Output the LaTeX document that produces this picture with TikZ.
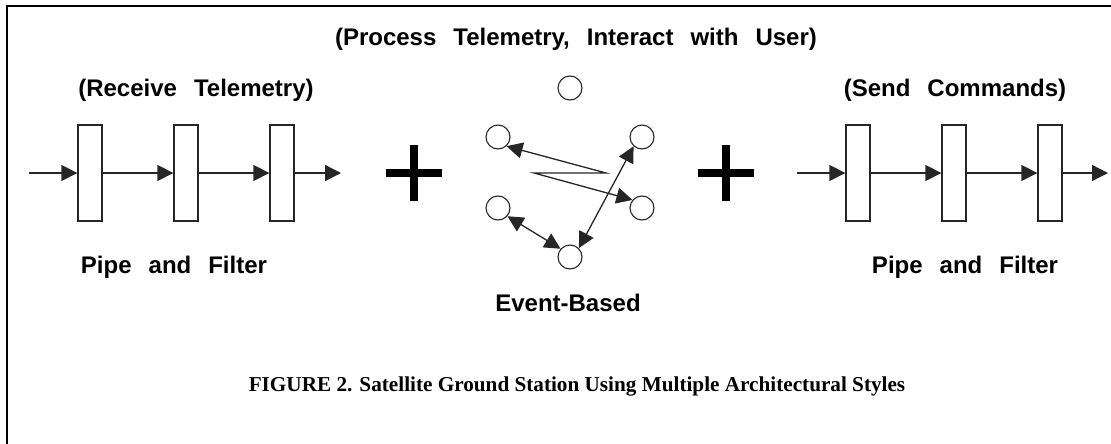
\documentclass[tikz,border=0pt]{standalone}
\usepackage{fontspec}
\setmainfont{Liberation Serif}
\setsansfont{Liberation Sans}
\usetikzlibrary{arrows.meta}

% slightly wider gaps between words in the headings
\newcommand{\widegaps}{\spaceskip=17pt\relax}

\tikzset{
  every picture/.style={x=1pt,y=-1pt},
  tip/.tip={Triangle[length=16pt,width=16pt]},
  wire/.style={line width=1.3pt, draw=black!85},
  flow/.style={wire, -tip},
  both/.style={wire, tip-tip},
  filterbox/.style={draw=black!85, line width=1.3pt, fill=white, minimum width=24pt, minimum height=96pt, inner sep=0pt},
  bubble/.style={circle, draw=black!85, line width=1.1pt, minimum size=24pt, inner sep=0pt},
  plusbar/.style={line width=7.5pt, draw=black},
  heading/.style={font=\sffamily\bfseries\fontsize{24}{28}\selectfont, execute at begin node=\widegaps, anchor=base, inner sep=0pt},
  caption/.style={font=\rmfamily\bfseries\fontsize{21.2}{25}\selectfont, anchor=base, inner sep=0pt}
}

\begin{document}
\begin{tikzpicture}
  \useasboundingbox (0,0) rectangle (1111,444);
  \fill[white] (0,0) rectangle (1111,444);

  % open frame: left and top edges
  \draw[line width=2.5pt] (7,444) -- (7,6) -- (1111,6);

  % headings
  \node[heading] (tProc) at (576,46) {(Process Telemetry, Interact with User)};
  \node[heading] (tRecv) at (196,96) {(Receive Telemetry)};
  \node[heading] (tSend) at (955,96) {(Send Commands)};
  \node[heading] (tPipeL) at (174,273) {Pipe and Filter};
  \node[heading] (tEvent) at (568,311) {Event-Based};
  \node[heading] (tPipeR) at (965,273) {Pipe and Filter};
  \node[caption] (tCap) at (577,391) {FIGURE 2. Satellite Ground Station Using Multiple Architectural Styles};

  % left pipe and filter chain
  \coordinate (inL) at (29,173);
  \node[filterbox] (fL1) at (90,173) {};
  \node[filterbox] (fL2) at (186,173) {};
  \node[filterbox] (fL3) at (282,173) {};
  \coordinate (outL) at (341,173);
  \draw[flow] (inL) -- (fL1);
  \draw[flow] (fL1) -- (fL2);
  \draw[flow] (fL2) -- (fL3);
  \draw[flow] (fL3) -- (outL);

  % right pipe and filter chain
  \coordinate (inR) at (797,173);
  \node[filterbox] (fR1) at (858,173) {};
  \node[filterbox] (fR2) at (954,173) {};
  \node[filterbox] (fR3) at (1050,173) {};
  \coordinate (outR) at (1108,173);
  \draw[flow] (inR) -- (fR1);
  \draw[flow] (fR1) -- (fR2);
  \draw[flow] (fR2) -- (fR3);
  \draw[flow] (fR3) -- (outR);

  % plus signs
  \draw[plusbar] (414,145) -- (414,201) (386,173) -- (442,173);
  \draw[plusbar] (726,145) -- (726,201) (698,173) -- (754,173);

  % event-based components
  \node[bubble] (eTop) at (570,88) {};
  \node[bubble] (eUL) at (498,137) {};
  \node[bubble] (eUR) at (642,137) {};
  \node[bubble] (eLL) at (498,208) {};
  \node[bubble] (eLR) at (642,208) {};
  \node[bubble] (eBot) at (570,257) {};

  % event connectors
  \coordinate (zA) at (606,173);
  \coordinate (zB) at (534,173);
  \draw[both] (eUL.313) -- (zA) -- (zB) -- (eLR.140);
  \draw[both] (eBot.45) -- (eUR.228);
  \draw[both] (eLL.319) -- (eBot.139);
\end{tikzpicture}
\end{document}
